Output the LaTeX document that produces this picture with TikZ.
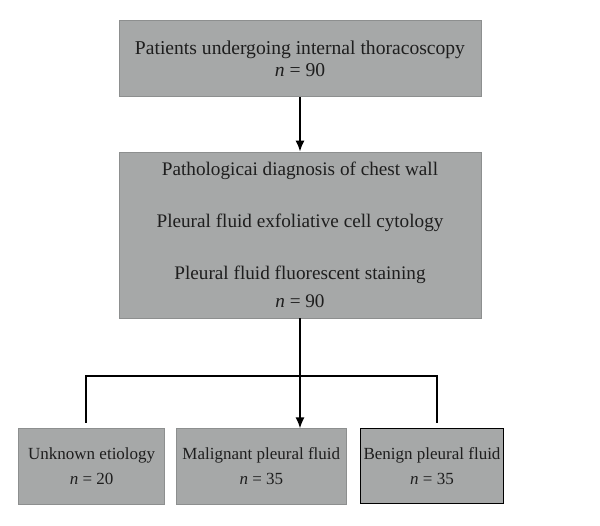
\documentclass[tikz,border=0pt]{standalone}
\usepackage{fontspec}
\setmainfont{Liberation Serif}
\usetikzlibrary{arrows.meta}
\definecolor{boxfill}{RGB}{166,168,168}
\definecolor{txt}{RGB}{30,30,30}
\begin{document}
\begin{tikzpicture}[x=1pt,y=-1pt,
  box/.style={fill=boxfill,draw=boxfill!85!black,line width=0.6pt,inner sep=0pt,align=center,text=txt},
  conn/.style={line width=1.8pt,black},
  arr/.style={conn,-{Latex[length=11pt,width=9pt]}}]
\useasboundingbox[fill=white] (0,0) rectangle (600,526);
\node[box,minimum width=362pt,minimum height=76pt,font=\fontsize{19.6}{22}\selectfont] (top) at (300,58.8)
  {Patients undergoing internal thoracoscopy\\ \textit{n} = 90};
\node[box,minimum width=362pt,minimum height=166pt,font=\fontsize{19.2}{28}\selectfont] (mid) at (300,235)
  {Pathologicai diagnosis of chest wall\\[24pt] Pleural fluid exfoliative cell cytology\\[24pt] Pleural fluid fluorescent staining\\ \textit{n} = 90};
\node[box,minimum width=146pt,minimum height=75pt,font=\fontsize{17}{25}\selectfont] (b1) at (91.7,466.3)
  {Unknown etiology\\ \textit{n} = 20};
\node[box,minimum width=170.7pt,minimum height=75pt,font=\fontsize{17}{25}\selectfont] (b2) at (261.3,466.3)
  {Malignant pleural fluid\\ \textit{n} = 35};
\node[box,draw=black,line width=1pt,minimum width=142.6pt,minimum height=74pt,font=\fontsize{17}{25}\selectfont] (b3) at (432,466)
  {Benign pleural fluid\\ \textit{n} = 35};
\coordinate (hl) at (86,423);
\coordinate (hlt) at (86,375.7);
\coordinate (hrt) at (437,375.7);
\coordinate (hr) at (437,423);
\draw[arr] (top.south) -- (mid.north);
\draw[arr] (mid.south) -- (mid.south |- b2.north);
\draw[conn] (hl) -- (hlt) -- (hrt) -- (hr);
\end{tikzpicture}
\end{document}
